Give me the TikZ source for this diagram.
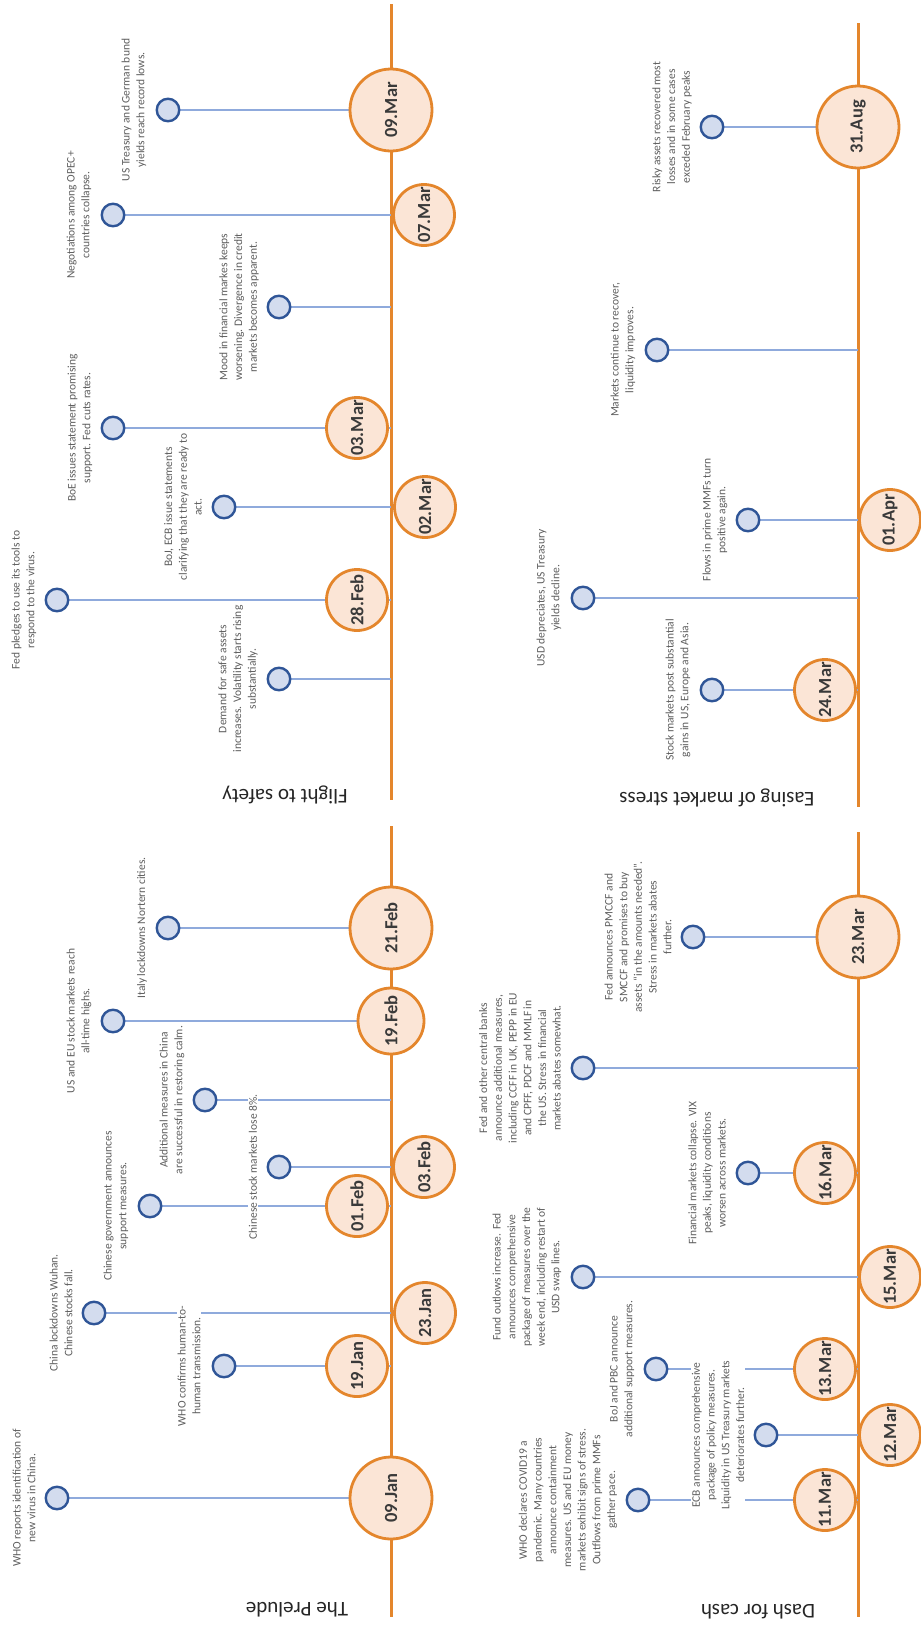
\documentclass[tikz,border=0pt]{standalone}
\usepackage{fontspec}
\setmainfont{Carlito}
\usetikzlibrary{backgrounds}
\definecolor{tlorange}{HTML}{E4862C}
\definecolor{tlpeach}{HTML}{FBE5D6}
\definecolor{dotfill}{HTML}{D3DCEE}
\definecolor{dotedge}{HTML}{2F5597}
\definecolor{connblue}{HTML}{8FAADC}
\definecolor{evgray}{HTML}{5E5E5E}
\definecolor{dategray}{HTML}{3A3A3A}
\tikzset{
  mainline/.style={draw=tlorange, line width=3pt},
  conn/.style={draw=connblue, line width=1.4pt},
  evtxt/.style={rotate=90, align=center, fill=white, inner sep=1pt, text=evgray,
    font=\fontsize{11.5}{14.7}\selectfont},
  dot/.style={circle, draw=dotedge, fill=dotfill, line width=2.4pt, minimum size=22.5pt, inner sep=0pt},
  datebase/.style={circle, draw=tlorange, fill=tlpeach, line width=2.8pt, inner sep=0pt,
    rotate=90, text=dategray, font=\fontsize{18.5}{20}\selectfont\bfseries},
  datebig/.style={datebase, minimum size=82pt},
  datemid/.style={datebase, minimum size=66pt},
  datesmall/.style={datebase, minimum size=61pt},
  ttl/.style={rotate=180, text=black!85, font=\fontsize{21}{24}\selectfont}
}
\newcommand{\tlev}[6]{%
  \coordinate (#1p) at (#2,#3);
  \node[evtxt] (#1t) at (#5,#3) {#6};
  \node[dot] (#1d) at (#4,#3) {};
  \begin{scope}[on background layer]\draw[conn] (#1d) -- (#1p);\end{scope}
}
\begin{document}
\begin{tikzpicture}[x=1pt,y=-1pt]
\path[use as bounding box] (0,0) rectangle (921,1628);

% ---------- main lines ----------
\coordinate (L1a) at (391,4);   \coordinate (L1b) at (391,800);
\coordinate (L2a) at (391,826); \coordinate (L2b) at (391,1617);
\coordinate (L3a) at (858,23);  \coordinate (L3b) at (858,807);
\coordinate (L4a) at (858,832); \coordinate (L4b) at (858,1617);
\begin{scope}[on background layer]
\fill[white] (0,0) rectangle (921,1628);
\draw[mainline] (L1a) -- (L1b);
\draw[mainline] (L2a) -- (L2b);
\draw[mainline] (L3a) -- (L3b);
\draw[mainline] (L4a) -- (L4b);
\end{scope}

% ---------- titles ----------
\node[ttl] (T1) at (285,795) {Flight to safety};
\node[ttl] (T2) at (297,1610) {The Prelude};
\node[ttl] (T3) at (717,798) {Easing of market stress};
\node[ttl] (T4) at (758,1612) {Dash for cash};

% ---------- Flight to safety ----------
\tlev{fa}{391}{110}{168}{134}{US Treasury and German bund\\yields reach record lows.}
\tlev{fb}{391}{215}{113}{79}{Negotiations among OPEC+\\countries collapse.}
\tlev{fc}{391}{307}{279}{239}{Mood in financial markes keeps\\worsening. Divergence in credit\\markets becomes apparent.}
\tlev{fd}{391}{428}{113}{80}{BoE issues statement promising\\support. Fed cuts rates.}
\tlev{fe}{391}{507}{224}{183}{BoJ, ECB issue statements\\clarifying that they are ready to\\act.}
\tlev{ff}{391}{600}{57}{24}{Fed pledges to use its tools to\\respond to the virus.}
\tlev{fg}{391}{679}{279}{238}{Demand for safe assets\\increases. Volatility starts rising\\substantially.}
\node[datebig] (mfa) at (391,110) {09.Mar};
\node[datesmall] (mfb) at (424,215) {07.Mar};
\node[datesmall] (mfd) at (357,428) {03.Mar};
\node[datesmall] (mfe) at (425,507) {02.Mar};
\node[datesmall] (mff) at (357,600) {28.Feb};

% ---------- The Prelude ----------
\tlev{pa}{391}{928}{168}{142}{Italy lockdowns Nortern cities.}
\tlev{pb}{391}{1021}{113}{79}{US and EU stock markets reach\\all-time highs.}
\tlev{pc}{391}{1100}{205}{172}{Additional measures in China\\are successful in restoring calm.}
\tlev{pd}{391}{1167}{279}{253}{Chinese stock markets lose 8\%.}
\tlev{pe}{391}{1206}{150}{116}{Chinese government announces\\support measures.}
\tlev{pf}{391}{1313}{94}{61}{China lockdowns Wuhan.\\Chinese stocks fall.}
\tlev{pg}{391}{1366}{224}{189}{WHO confirms human-to-\\human transmission.}
\tlev{ph}{391}{1498}{57}{24}{WHO reports identification of\\new virus in China.}
\node[datebig] (mpa) at (391,928) {21.Feb};
\node[datemid] (mpb) at (391,1021) {19.Feb};
\node[datesmall] (mpd) at (424,1167) {03.Feb};
\node[datesmall] (mpe) at (357,1206) {01.Feb};
\node[datesmall] (mpf) at (425,1313) {23.Jan};
\node[datesmall] (mpg) at (357,1366) {19.Jan};
\node[datebig] (mph) at (391,1498) {09.Jan};

% ---------- Easing of market stress ----------
\tlev{ea}{858}{127}{712}{672}{Risky assets recovered most\\losses and in some cases\\exceded February peaks}
\tlev{eb}{858}{350}{657}{623}{Markets continue to recover,\\liquidity improves.}
\tlev{ec}{858}{520}{748}{715}{Flows in prime MMFs turn\\positive again.}
\tlev{ed}{858}{598}{583}{549}{USD depreciates, US Treasury\\yields decline.}
\tlev{ee}{858}{690}{712}{678}{Stock markets post substantial\\gains in US, Europe and Asia.}
\node[datebig] (mea) at (858,127) {31.Aug};
\node[datesmall] (mec) at (890,520) {01.Apr};
\node[datesmall] (mee) at (825,690) {24.Mar};

% ---------- Dash for cash ----------
\tlev{da}{858}{937}{693}{638}{Fed announces PMCCF and\\SMCCF and promises to buy\\assets “in the amounts needed”.\\Stress in markets abates\\further.}
\tlev{db}{858}{1068}{583}{520}{Fed and other central banks\\announce additional measures,\\including CCFF in UK, PEPP in EU\\and CPFF, PDCF and MMLF in\\the US. Stress in financial\\markets abates somewhat.}
\tlev{dc}{858}{1173}{748}{707}{Financial markets collapse. VIX\\peaks, liquidity conditions\\worsen across markets.}
\tlev{dd}{858}{1277}{583}{527}{Fund outlows increase. Fed\\announces comprehensive\\package of measures over the\\week end, including restart of\\USD swap lines.}
\tlev{de}{858}{1369}{656}{622}{BoJ and PBC announce\\additional support measures.}
\tlev{df}{858}{1435}{766}{718}{ECB announces comprehensive\\package of policy measures.\\Liquidity in US Treasury markets\\deteriorates further.}
\tlev{dg}{858}{1500}{638}{568}{WHO declares COVID19 a\\pandemic. Many countries\\announce containment\\measures. US and EU money\\markets exhibit signs of stress.\\Outflows from prime MMFs\\gather pace.}
\node[datebig] (mda) at (858,937) {23.Mar};
\node[datesmall] (mdc) at (825,1173) {16.Mar};
\node[datesmall] (mdd) at (890,1277) {15.Mar};
\node[datesmall] (mde) at (825,1369) {13.Mar};
\node[datesmall] (mdf) at (890,1435) {12.Mar};
\node[datesmall] (mdg) at (825,1500) {11.Mar};
\end{tikzpicture}
\end{document}
